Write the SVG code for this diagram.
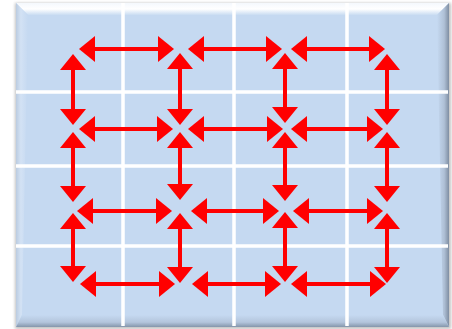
<svg xmlns="http://www.w3.org/2000/svg" width="452" height="329" viewBox="0 0 452 329">
  <defs>
    <style>
      .grid { stroke: #FFFFFF; stroke-width: 3.5; }
      .arr { stroke: #FF0000; stroke-width: 4; fill: none; marker-start: url(#head); marker-end: url(#head); }
    </style>
    <marker id="head" viewBox="0 0 16 26" markerUnits="userSpaceOnUse" markerWidth="16" markerHeight="26" refX="8" refY="13" orient="auto-start-reverse">
      <path d="M0,0 L16,13 L0,26 Z" fill="#FF0000"/>
    </marker>
    <linearGradient id="gTop" x1="0" y1="0" x2="0" y2="1">
      <stop offset="0" stop-color="#F4F8FD"/>
      <stop offset="0.5" stop-color="#FFFFFF"/>
      <stop offset="1" stop-color="#C9DCF2"/>
    </linearGradient>
    <linearGradient id="gLeft" x1="0" y1="0" x2="1" y2="0">
      <stop offset="0" stop-color="#B8C8DC"/>
      <stop offset="0.4" stop-color="#D6E4F5"/>
      <stop offset="1" stop-color="#C5D9F1"/>
    </linearGradient>
    <linearGradient id="gRight" x1="0" y1="0" x2="1" y2="0">
      <stop offset="0" stop-color="#C5D9F1"/>
      <stop offset="0.6" stop-color="#AFC0D6"/>
      <stop offset="1" stop-color="#7F8EA2"/>
    </linearGradient>
    <linearGradient id="gBot" x1="0" y1="0" x2="0" y2="1">
      <stop offset="0" stop-color="#C5D9F1"/>
      <stop offset="0.6" stop-color="#B3C5DC"/>
      <stop offset="1" stop-color="#8596AB"/>
    </linearGradient>
    <filter id="shadow" x="-5%" y="-5%" width="110%" height="110%">
      <feGaussianBlur stdDeviation="1.5"/>
    </filter>
  </defs>

  <g id="frame">
    <rect x="15" y="3" width="436" height="326" fill="#9A9A9A" opacity="0.6" filter="url(#shadow)"/>
    <rect x="16" y="3" width="433" height="324" fill="#C5D9F1"/>
    <polygon points="16,3 449,3 437,15 28,15" fill="url(#gTop)"/>
    <polygon points="16,3 28,15 22,315 16,327" fill="url(#gLeft)" opacity="0.8"/>
    <polygon points="449,3 449,327 443,315 437,15" fill="url(#gRight)"/>
    <polygon points="16,327 449,327 443,315 22,315" fill="url(#gBot)"/>
  </g>

  <g id="grid">
    <line class="grid" x1="123" y1="3" x2="123" y2="326"/>
    <line class="grid" x1="234" y1="3" x2="234" y2="326"/>
    <line class="grid" x1="347" y1="3" x2="347" y2="326"/>
    <line class="grid" x1="16" y1="92" x2="448" y2="92"/>
    <line class="grid" x1="16" y1="166" x2="448" y2="166"/>
    <line class="grid" x1="16" y1="246" x2="448" y2="246"/>
  </g>

  <g id="connectors">
    <!-- horizontal arrows: tips +/-8 from line ends -->
    <!-- row 1 y=49 -->
    <line class="arr" x1="87" y1="49" x2="166" y2="49"/>
    <line class="arr" x1="196" y1="49" x2="274" y2="49"/>
    <line class="arr" x1="299" y1="49" x2="377" y2="49"/>
    <!-- row 2 y=129 -->
    <line class="arr" x1="87" y1="129" x2="165" y2="129"/>
    <line class="arr" x1="196" y1="129" x2="275" y2="129"/>
    <line class="arr" x1="299" y1="129" x2="375" y2="129"/>
    <!-- row 3 y=211 -->
    <line class="arr" x1="85" y1="211" x2="164" y2="211"/>
    <line class="arr" x1="199" y1="211" x2="271" y2="211"/>
    <line class="arr" x1="301" y1="211" x2="375" y2="211"/>
    <!-- row 4 y=284 -->
    <line class="arr" x1="88" y1="284" x2="167" y2="284"/>
    <line class="arr" x1="200" y1="284" x2="273" y2="284"/>
    <line class="arr" x1="299" y1="284" x2="378" y2="284"/>

    <!-- vertical arrows -->
    <!-- col 1 x=73 -->
    <line class="arr" x1="73" y1="62" x2="73" y2="117"/>
    <line class="arr" x1="73" y1="140" x2="73" y2="194"/>
    <line class="arr" x1="73" y1="221" x2="73" y2="274"/>
    <!-- col 2 x=180 -->
    <line class="arr" x1="180" y1="61" x2="180" y2="117"/>
    <line class="arr" x1="180" y1="140" x2="180" y2="192"/>
    <line class="arr" x1="180" y1="221" x2="180" y2="275"/>
    <!-- col 3 x=285 -->
    <line class="arr" x1="285" y1="61" x2="285" y2="115"/>
    <line class="arr" x1="285" y1="140" x2="285" y2="193"/>
    <line class="arr" x1="285" y1="220" x2="285" y2="274"/>
    <!-- col 4 x=387 -->
    <line class="arr" x1="387" y1="62" x2="387" y2="117"/>
    <line class="arr" x1="387" y1="140" x2="387" y2="194"/>
    <line class="arr" x1="387" y1="221" x2="387" y2="275"/>
  </g>
</svg>
